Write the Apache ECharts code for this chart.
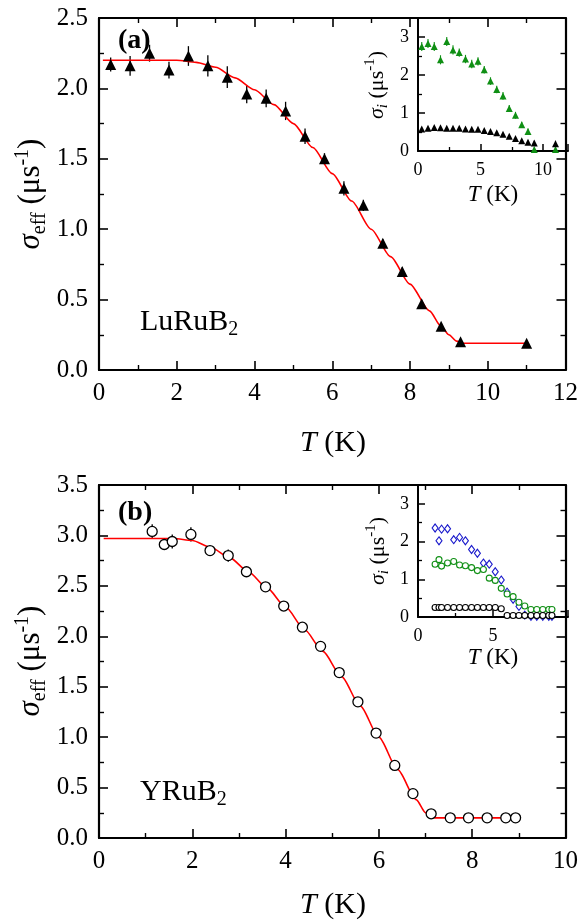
<!DOCTYPE html>
<html><head><meta charset="utf-8">
<script src="https://cdn.jsdelivr.net/npm/echarts@6/dist/echarts.min.js"></script>
<style>html,body{margin:0;padding:0;background:#fff}#c{width:581px;height:921px}</style>
</head><body><div id="c"></div><script>
const SERIF = '"Liberation Serif","Times New Roman",serif';

// ---------- Panel (a): LuRuB2 ----------
const aT      = [0.3,0.8,1.3,1.8,2.3,2.8,3.3,3.8,4.3,4.8,5.3,5.8,6.3,6.8,7.3,7.8,8.3,8.8,9.3,11.0];
const aSigma  = [2.17,2.16,2.25,2.13,2.23,2.16,2.08,1.96,1.93,1.84,1.66,1.50,1.29,1.17,0.90,0.70,0.47,0.31,0.20,0.19];
const aErr    = [0.05,0.07,0.06,0.06,0.07,0.075,0.077,0.065,0.063,0.065,0.055,0.04,0.05,0.04,0.03,0.03,0.02,0.02,0.02,0.02];
const aFitT     = [0.1,1.0,2.0,2.5,3.0,3.5,4.0,4.5,5.0,5.5,6.0,6.5,7.0,7.5,8.0,8.5,8.8,9.0,9.2,9.35,11.0];
const aFitSigma = [2.20,2.20,2.20,2.185,2.15,2.075,1.99,1.885,1.75,1.58,1.395,1.20,1.00,0.805,0.61,0.42,0.31,0.25,0.205,0.19,0.19];
// inset (a)
const iaGreen    = [2.75,2.83,2.75,2.40,2.88,2.66,2.59,2.42,2.29,2.36,2.14,1.84,1.62,1.45,1.12,0.94,0.69,0.51,0.04,0.04];
const iaGreenErr = [0.12,0.12,0.12,0.12,0.12,0.12,0.11,0.11,0.11,0.11,0.1,0.1,0.1,0.1,0.09,0.09,0.08,0.08,0.05,0.05];
const iaBlack    = [0.58,0.60,0.62,0.61,0.60,0.60,0.60,0.58,0.57,0.57,0.54,0.51,0.48,0.44,0.39,0.33,0.27,0.23,0.21,0.19];
const iaBlackErr = [0.03,0.03,0.03,0.03,0.03,0.03,0.03,0.03,0.03,0.03,0.03,0.03,0.03,0.03,0.03,0.03,0.03,0.04,0.06,0.08];

// ---------- Panel (b): YRuB2 ----------
const bT      = [1.14,1.40,1.57,1.97,2.38,2.77,3.16,3.57,3.96,4.36,4.75,5.15,5.55,5.94,6.34,6.73,7.12,7.53,7.92,8.32,8.72,8.93];
const bSigma  = [3.04,2.91,2.94,3.01,2.85,2.80,2.64,2.49,2.30,2.09,1.90,1.64,1.35,1.04,0.72,0.44,0.24,0.20,0.20,0.20,0.20,0.20];
const bErr    = [0.07,0.04,0.07,0.07,0.04,0.06,0.05,0.04,0.05,0.04,0.03,0.03,0.03,0.03,0.03,0.03,0.03,0.02,0.02,0.02,0.02,0.02];
const bFitT     = [0.1,1.0,1.6,2.0,2.4,2.8,3.2,3.6,4.0,4.4,4.8,5.2,5.6,6.0,6.4,6.8,7.0,7.1,7.2,9.0];
const bFitSigma = [2.97,2.97,2.97,2.95,2.88,2.78,2.64,2.48,2.29,2.07,1.85,1.60,1.31,1.00,0.68,0.38,0.25,0.21,0.20,0.20];
// inset (b)
const ibBlue     = [2.36,2.02,2.33,2.34,2.05,2.11,2.02,1.79,1.69,1.43,1.40,1.20,0.98,0.66,0.47,0.28,0.05,0.02,0.02,0.02,0.02,0.02];
const ibBlueErr  = [0.1,0.1,0.1,0.1,0.1,0.1,0.1,0.08,0.08,0.08,0.08,0.07,0.07,0.06,0.06,0.05,0.04,0.03,0.03,0.03,0.03,0.03];
const ibGreen    = [1.40,1.52,1.35,1.43,1.47,1.38,1.36,1.31,1.23,1.26,1.03,0.97,0.76,0.61,0.54,0.39,0.29,0.20,0.20,0.20,0.20,0.20];
const ibBlack    = [0.25,0.25,0.25,0.25,0.25,0.25,0.25,0.25,0.25,0.25,0.25,0.25,0.22,0.04,0.04,0.04,0.04,0.04,0.04,0.04,0.04,0.04];

// ---------- text ----------
const yTitleMain  = '{s|σ}{sub|eff}{n| (μs}{sup|-1}{n|)}';
const yTitleInset = '{s|σ}{subi|i}{n| (μs}{sup|-1}{n|)}';
const xTitle      = '{i|T}{n| (K)}';
const labelA = '(a)', labelB = '(b)';
const nameA = '{n|LuRuB}{sub|2}', nameB = '{n|YRuB}{sub|2}';

const RED = '#ff0000', GREEN = '#0f8f14', BLUE = '#1a1acc';

function pairs(xs, ys){ return xs.map((x,i)=>[x, ys[i]]); }
function triples(xs, ys, es){ return xs.map((x,i)=>[x, ys[i], es[i]]); }

function errSeries(xi, yi, data, color, w){
  return {
    type:'custom', xAxisIndex:xi, yAxisIndex:yi, z:2, silent:true, clip:false,
    encode:{x:0, y:1},
    data:data,
    renderItem:function(params, api){
      const x = api.value(0), y = api.value(1), e = api.value(2);
      const p1 = api.coord([x, y - e]), p2 = api.coord([x, y + e]);
      return {type:'line', shape:{x1:p1[0], y1:p1[1], x2:p2[0], y2:p2[1]},
              style:{stroke:color, lineWidth:w}};
    }
  };
}

function richMain(size, sub){
  return {
    n:{fontFamily:SERIF, fontSize:size, lineHeight:size+6, fill:'#000'},
    s:{fontFamily:SERIF, fontStyle:'italic', fontSize:size, lineHeight:size+6, fill:'#000'},
    i:{fontFamily:SERIF, fontStyle:'italic', fontSize:size, lineHeight:size+6, fill:'#000'},
    sub:{fontFamily:SERIF, fontSize:sub, lineHeight:sub, verticalAlign:'bottom', fill:'#000'},
    subi:{fontFamily:SERIF, fontStyle:'italic', fontSize:sub, lineHeight:sub, verticalAlign:'bottom', fill:'#000'},
    sup:{fontFamily:SERIF, fontSize:sub, lineHeight:sub, verticalAlign:'top', fill:'#000'}
  };
}

const mainLine = {show:true, onZero:false, lineStyle:{color:'#000', width:2.2}};
const insetLine = {show:true, onZero:false, lineStyle:{color:'#000', width:2}};

function mainAxis(grid, pos, min, max, interval, labels, fmt){
  return {
    type:'value', gridIndex:grid, position:pos, min:min, max:max, interval:interval,
    axisLine:mainLine, splitLine:{show:false},
    axisTick:{show:true, inside:true, length:9, lineStyle:{color:'#000', width:1.6}},
    minorTick:{show:true, splitNumber:2, length:5, lineStyle:{color:'#000', width:1.4}},
    axisLabel:{show:labels, margin:11, fontFamily:SERIF, fontSize:25, color:'#000',
               showMinLabel:true, showMaxLabel:true, formatter:fmt}
  };
}
function insetAxis(grid, pos, min, max, interval){
  return {
    type:'value', gridIndex:grid, position:pos, min:min, max:max, interval:interval,
    axisLine:insetLine, splitLine:{show:false},
    axisTick:{show:true, inside:true, length:7, lineStyle:{color:'#000', width:1.5}},
    minorTick:{show:true, splitNumber:2, length:4, lineStyle:{color:'#000', width:1.3}},
    axisLabel:{show:true, margin:pos==='left'?9:10, fontFamily:SERIF, fontSize:18, color:'#000',
               showMinLabel:true, showMaxLabel:false, formatter:v=>String(v)}
  };
}
const f1 = v=>v.toFixed(1), f0 = v=>String(v);

function scat(xi, yi, data, symbol, size, fill, stroke, bw){
  return {type:'scatter', xAxisIndex:xi, yAxisIndex:yi, data:data, symbol:symbol, symbolSize:size,
          itemStyle:{color:fill, borderColor:stroke, borderWidth:bw, opacity:1}, z:4, silent:true};
}

const option = {
  animation:false,
  backgroundColor:'#fff',
  grid:[
    {left:99, top:18, width:469, height:352},
    {left:418, top:18, width:150, height:133},
    {left:99, top:485, width:469, height:353},
    {left:418, top:485, width:150, height:132}
  ],
  xAxis:[
    mainAxis(0,'bottom',0,12,2,true,f0),
    mainAxis(0,'top',0,12,2,false,f0),
    insetAxis(1,'bottom',0,12,5),
    mainAxis(2,'bottom',0,10,2,true,f0),
    mainAxis(2,'top',0,10,2,false,f0),
    insetAxis(3,'bottom',0,10,5)
  ],
  yAxis:[
    mainAxis(0,'left',0,2.5,0.5,true,f1),
    mainAxis(0,'right',0,2.5,0.5,false,f1),
    insetAxis(1,'left',0,3.5,1),
    mainAxis(2,'left',0,3.5,0.5,true,f1),
    mainAxis(2,'right',0,3.5,0.5,false,f1),
    insetAxis(3,'left',0,3.5,1)
  ],
  series:[
    // panel a
    errSeries(0,0,triples(aT,aSigma,aErr),'#000',1.3),
    {type:'line', xAxisIndex:0, yAxisIndex:0, data:pairs(aFitT,aFitSigma), symbol:'none', smooth:0.25, smoothMonotone:'x',
     lineStyle:{color:RED, width:1.6}, z:3, silent:true},
    scat(0,0,pairs(aT,aSigma),'triangle',[11,11],'#000','#000',0),
    // inset a
    errSeries(2,2,triples(aT,iaGreen,iaGreenErr),GREEN,1.1),
    scat(2,2,pairs(aT,iaGreen),'triangle',[7,7],GREEN,GREEN,0),
    errSeries(2,2,triples(aT,iaBlack,iaBlackErr),'#000',1.1),
    scat(2,2,pairs(aT,iaBlack),'triangle',[7,7],'#000','#000',0),
    // panel b
    errSeries(3,3,triples(bT,bSigma,bErr),'#000',1.3),
    {type:'line', xAxisIndex:3, yAxisIndex:3, data:pairs(bFitT,bFitSigma), symbol:'none', smooth:0.25, smoothMonotone:'x',
     lineStyle:{color:RED, width:1.6}, z:3, silent:true},
    scat(3,3,pairs(bT,bSigma),'circle',10,'#fff','#000',1.3),
    // inset b
    errSeries(5,5,triples(bT,ibBlue,ibBlueErr),BLUE,1.1),
    scat(5,5,pairs(bT,ibBlue),'diamond',[6,8],'#fff',BLUE,1.1),
    scat(5,5,pairs(bT,ibGreen),'circle',6,'#fff',GREEN,1.1),
    scat(5,5,pairs(bT,ibBlack),'circle',6,'#fff','#000',1.1)
  ],
  graphic:[
    {type:'text', x:31, y:194, rotation:Math.PI/2, z:10,
     style:{text:yTitleMain, align:'center', verticalAlign:'middle', rich:richMain(31,20)}},
    {type:'text', x:31, y:661, rotation:Math.PI/2, z:10,
     style:{text:yTitleMain, align:'center', verticalAlign:'middle', rich:richMain(31,20)}},
    {type:'text', x:333, y:443, z:10,
     style:{text:xTitle, align:'center', verticalAlign:'middle', rich:richMain(30,20)}},
    {type:'text', x:333, y:905, z:10,
     style:{text:xTitle, align:'center', verticalAlign:'middle', rich:richMain(30,20)}},
    {type:'text', x:118, y:41, z:10,
     style:{text:labelA, align:'left', verticalAlign:'middle', fontFamily:SERIF, fontWeight:'bold', fontSize:28, fill:'#000'}},
    {type:'text', x:118, y:513, z:10,
     style:{text:labelB, align:'left', verticalAlign:'middle', fontFamily:SERIF, fontWeight:'bold', fontSize:28, fill:'#000'}},
    {type:'text', x:140, y:322, z:10,
     style:{text:nameA, align:'left', verticalAlign:'middle', rich:richMain(30,20)}},
    {type:'text', x:140, y:792, z:10,
     style:{text:nameB, align:'left', verticalAlign:'middle', rich:richMain(30,20)}},
    {type:'text', x:377, y:85, rotation:Math.PI/2, z:10,
     style:{text:yTitleInset, align:'center', verticalAlign:'middle', rich:richMain(22,15)}},
    {type:'text', x:378, y:551, rotation:Math.PI/2, z:10,
     style:{text:yTitleInset, align:'center', verticalAlign:'middle', rich:richMain(22,15)}},
    {type:'text', x:493, y:195, z:10,
     style:{text:xTitle, align:'center', verticalAlign:'middle', rich:richMain(23,15)}},
    {type:'text', x:493, y:658, z:10,
     style:{text:xTitle, align:'center', verticalAlign:'middle', rich:richMain(23,15)}}
  ]
};
const chart = echarts.init(document.getElementById('c'), null, {renderer:'canvas'});
chart.setOption(option);
</script></body></html>
